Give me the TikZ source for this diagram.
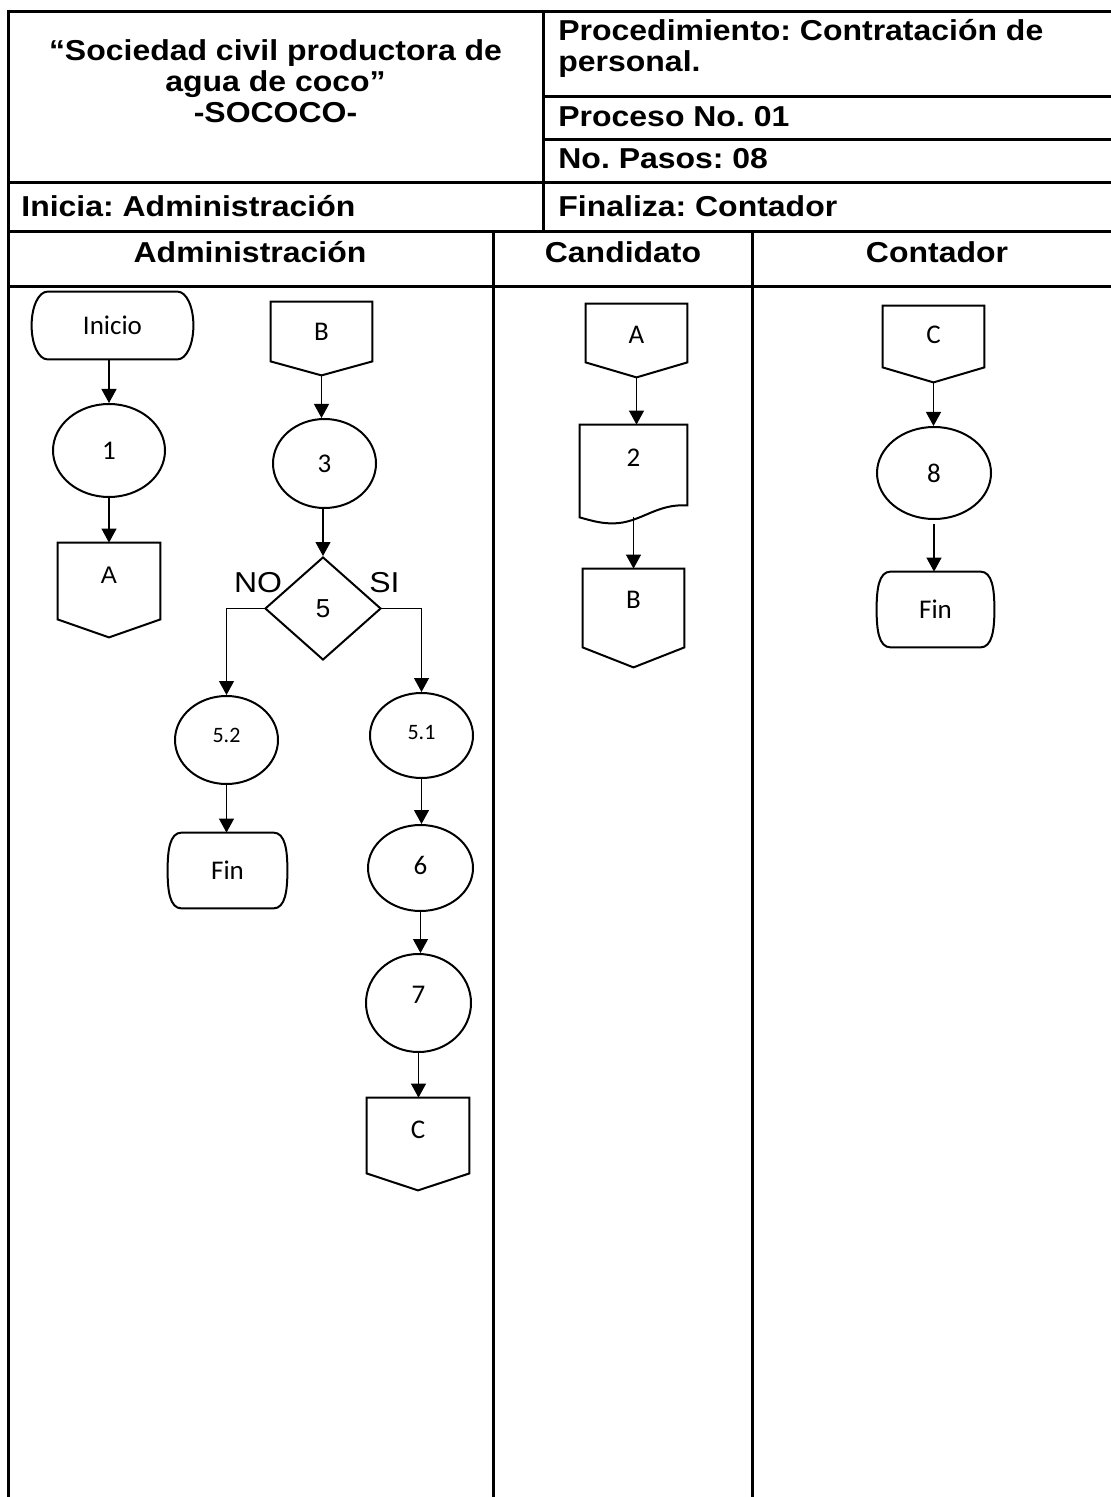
\documentclass[tikz,border=0pt]{standalone}
\usepackage{fontspec}
\setmainfont{Liberation Sans}
\newfontfamily\hdrfont[FakeStretch=1.11]{Liberation Sans}
\newfontfamily\calfont{Carlito}
\newfontfamily\arialfont{Liberation Sans}
\usetikzlibrary{shapes.geometric,arrows.meta,calc}
\frenchspacing
\newcommand\offpage[2]{%
  \draw[line width=1pt,line join=miter] (#1.north west) -- (#1.north east) -- ($(#1.south east)+(0,-#2)$) -- (#1.south) -- ($(#1.south west)+(0,-#2)$) -- cycle;}
\newcommand\finshape[1]{%
  \draw[line width=1pt] ($(#1.north west)+(14,0)$) -- ($(#1.north east)+(-14,0)$)
    .. controls ($(#1.north east)+(-2,0)$) and ($(#1.north east)+(0,18)$) .. (#1.east)
    .. controls ($(#1.south east)+(0,-18)$) and ($(#1.south east)+(-2,0)$) .. ($(#1.south east)+(-14,0)$)
    -- ($(#1.south west)+(14,0)$)
    .. controls ($(#1.south west)+(2,0)$) and ($(#1.south west)+(0,-18)$) .. (#1.west)
    .. controls ($(#1.north west)+(0,18)$) and ($(#1.north west)+(2,0)$) .. ($(#1.north west)+(14,0)$) -- cycle;}
\newcommand\startshape[1]{%
  \draw[line width=1pt] ($(#1.north west)+(16,0)$) -- ($(#1.north east)+(-16,0)$)
    .. controls ($(#1.north east)+(-7,0)$) and ($(#1.east)+(0,-19)$) .. (#1.east)
    .. controls ($(#1.east)+(0,19)$) and ($(#1.south east)+(-7,0)$) .. ($(#1.south east)+(-16,0)$)
    -- ($(#1.south west)+(16,0)$)
    .. controls ($(#1.south west)+(7,0)$) and ($(#1.west)+(0,19)$) .. (#1.west)
    .. controls ($(#1.west)+(0,-19)$) and ($(#1.north west)+(7,0)$) .. ($(#1.north west)+(16,0)$) -- cycle;}
\tikzset{
  tbl/.style={line width=1.5pt},
  shp/.style={draw, line width=1pt, inner sep=0pt},
  con/.style={line width=0.6pt, -{Triangle[width=7.5pt,length=7pt]}},
  hdr/.style={font=\hdrfont\bfseries\fontsize{14.4pt}{15.5pt}\selectfont, inner sep=0pt},
  nosi/.style={font=\hdrfont\fontsize{14.4pt}{15.5pt}\selectfont, inner sep=0pt},
  lbl/.style={font=\calfont\fontsize{13.5pt}{15pt}\selectfont},
  small/.style={font=\calfont\fontsize{11pt}{13pt}\selectfont},
  ell/.style={shp, ellipse, lbl},
  bbox/.style={rectangle, inner sep=0pt, lbl}
}
\begin{document}
\begin{tikzpicture}[x=0.5pt,y=-0.5pt]
\fill[white] (0,0) rectangle (1111,1497);
\useasboundingbox (0,0) rectangle (1111,1497);
% table
\draw[tbl] (8,1497) -- (8,12) -- (1111,12);
\draw[tbl] (543,97) -- (1111,97);
\draw[tbl] (543,140) -- (1111,140);
\draw[tbl] (8,183) -- (1111,183);
\draw[tbl] (8,232) -- (1111,232);
\draw[tbl] (8,287) -- (1111,287);
\draw[tbl] (543,12) -- (543,232);
\draw[tbl] (493,232) -- (493,1497);
\draw[tbl] (752,232) -- (752,1497);
% header texts
\node[hdr, anchor=base] (t1) at (275.5,61) {“Sociedad civil productora de};
\node[hdr, anchor=base] (t2) at (275.5,92) {agua de coco”};
\node[hdr, anchor=base] (t3) at (275.5,123) {-SOCOCO-};
\node[hdr, anchor=base west] (p1) at (558,41) {Procedimiento: Contratación de};
\node[hdr, anchor=base west] (p2) at (558,72) {personal.};
\node[hdr, anchor=base west] (p3) at (558,127) {Proceso No. 01};
\node[hdr, anchor=base west] (p4) at (558,169) {No. Pasos: 08};
\node[hdr, anchor=base west] (p5) at (558,217) {Finaliza: Contador};
\node[hdr, anchor=base west] (ini) at (21,217) {Inicia: Administración};
\node[hdr, anchor=base] (l1) at (250,263) {Administración};
\node[hdr, anchor=base] (l2) at (623,263) {Candidato};
\node[hdr, anchor=base] (l3) at (937,263) {Contador};
% Administracion lane
\node[bbox, minimum width=80.5pt, minimum height=33.5pt] (Inicio) at (112.5,325.5) {Inicio};
\startshape{Inicio}
\node[ell, minimum width=56pt, minimum height=46.5pt] (E1) at (109,450.5) {1};
\node[bbox, font=\arialfont\fontsize{12pt}{14pt}\selectfont, minimum width=51pt, minimum height=47pt, text depth=15pt] (A1) at (109,590) {A};
\offpage{A1}{18}
\node[bbox, minimum width=50.5pt, minimum height=36.5pt, text depth=6.5pt] (B1) at (321.5,338.5) {B};
\offpage{B1}{14}
\node[ell, minimum width=51.5pt, minimum height=44.5pt] (E3) at (324.5,463.5) {3};
\node[shp, diamond, font=\arialfont\fontsize{13pt}{15pt}\selectfont, minimum width=58pt, minimum height=51.5pt] (D5) at (323,608.5) {5};
\node[nosi] (no) at (258,583) {NO};
\node[nosi] (si) at (384.5,583) {SI};
\node[ell, small, minimum width=51.5pt, minimum height=44pt, text depth=5pt] (E52) at (226.5,740) {5.2};
\node[bbox, minimum width=59.5pt, minimum height=37.5pt] (F52) at (227.5,870.5) {Fin};
\finshape{F52}
\node[ell, small, minimum width=51.5pt, minimum height=42.5pt, text depth=3.5pt] (E51) at (421.5,735.5) {5.1};
\node[ell, minimum width=52.5pt, minimum height=43pt, text depth=3pt] (E6) at (420.5,868) {6};
\node[ell, minimum width=52.5pt, minimum height=49pt, text depth=8pt] (E7) at (418.5,1003) {7};
\node[bbox, minimum width=51pt, minimum height=46pt, text depth=14pt] (C1) at (418,1144) {C};
\offpage{C1}{17}
% Candidato lane
\node[bbox, minimum width=50.5pt, minimum height=36.5pt, text depth=5.5pt] (CA) at (636.5,340.5) {A};
\offpage{CA}{15}
\node[bbox, minimum width=53.5pt, minimum height=49pt, text depth=16pt] (D2) at (633.5,474) {2};
\draw[line width=1pt] (D2.north west) -- (D2.north east) -- ($(D2.south east)+(0,-18)$)
  .. controls ($(D2.south east)+(-32,-20)$) and ($(D2.south)+(7,0)$) .. ($(D2.south)+(-21,0)$)
  .. controls ($(D2.south)+(-35,0)$) and ($(D2.south west)+(8,-4)$) .. ($(D2.south west)+(0,-6)$) -- cycle;
\node[bbox, minimum width=50.5pt, minimum height=49pt, text depth=18pt] (CB) at (633.5,618) {B};
\offpage{CB}{20}
% Contador lane
\node[bbox, minimum width=50.5pt, minimum height=38pt, text depth=9pt] (CC) at (933.5,344) {C};
\offpage{CC}{15}
\node[ell, minimum width=57pt, minimum height=46pt] (E8) at (934,473) {8};
\node[bbox, minimum width=58.5pt, minimum height=37.5pt] (FC) at (935.5,609.5) {Fin};
\finshape{FC}
% connectors
\draw[con] (Inicio.south -| E1.north) -- (E1.north);
\draw[con] (E1.south) -- (E1.south |- A1.north);
\draw[con] (B1.south) -- (B1.south |- E3.north);
\draw[con] (E3.south -| D5.north) -- (D5.north);
\draw[con] (D5.west) -| (E52.north);
\draw[con] (D5.east) -| (E51.north);
\draw[con] (E52.south) -- (E52.south |- F52.north);
\draw[con] (E51.south) -- (E51.south |- E6.north);
\draw[con] (E6.south) -- (E6.south |- E7.north);
\draw[con] (E7.south) -- (E7.south |- C1.north);
\draw[con] (CA.south) -- (CA.south |- D2.north);
\draw[con] ($(D2.south -| CB.north)+(0,-6)$) -- (CB.north);
\draw[con] (CC.south) -- (CC.south |- E8.north);
\draw[con] ($(E8.south)+(0,4)$) -- (E8.south |- FC.north);
\end{tikzpicture}
\end{document}
